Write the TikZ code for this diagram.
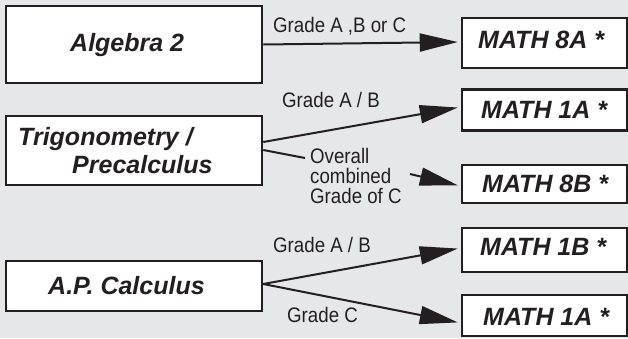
\documentclass[tikz,border=0pt]{standalone}
\usepackage{fontspec}
\setmainfont{Liberation Sans}
\newfontfamily\labfont[FakeStretch=0.89]{Liberation Sans}
\usetikzlibrary{arrows.meta}
\definecolor{bg}{HTML}{E6E7E8}
\definecolor{ink}{HTML}{231F20}
\tikzset{
  box/.style={draw=ink, line width=2.5pt, fill=white, inner sep=0pt},
  leftbox/.style={box, minimum width=256pt},
  rightbox/.style={box, minimum width=165pt},
  boxtext/.style={anchor=base west, inner sep=0pt, text=ink, font=\fontsize{25}{30}\selectfont\bfseries\itshape},
  lab/.style={anchor=base west, inner sep=0pt, text=ink, font=\labfont\fontsize{21}{20}\selectfont},
  conn/.style={draw=ink, line width=2pt},
  arr/.style={conn, -{Triangle[length=38pt,width=18pt]}, shorten >=3pt}
}
\begin{document}
\begin{tikzpicture}[x=1pt,y=-1pt]
\fill[bg] (0,0) rectangle (628,338);
\useasboundingbox (0,0) rectangle (628,338);
% left boxes
\node[leftbox, minimum height=77pt] (alg) at (134,44.5) {};
\node[leftbox, minimum height=69pt] (trig) at (134,150.5) {};
\node[leftbox, minimum height=50pt] (ap) at (134,286) {};
% right boxes
\node[rightbox, minimum height=50pt] (m8a) at (544.5,43) {};
\node[rightbox, minimum height=41pt] (m1a) at (544.5,110) {};
\node[rightbox, minimum height=38pt] (m8b) at (544.5,184) {};
\node[rightbox, minimum height=44pt] (m1b) at (544.5,250) {};
\node[rightbox, minimum height=41pt] (m1c) at (544.5,315.5) {};
% box texts
\node[boxtext] (talg) at (70,51) {Algebra 2};
\node[boxtext] (ttrig1) at (18,145) {Trigonometry /};
\node[boxtext] (ttrig2) at (72,173) {Precalculus};
\node[boxtext] (tap) at (48,294) {A.P. Calculus};
\node[boxtext] (t8a) at (478,48) {MATH 8A *};
\node[boxtext] (t1a) at (481,118) {MATH 1A *};
\node[boxtext] (t8b) at (482,192) {MATH 8B *};
\node[boxtext] (t1b) at (480,255) {MATH 1B *};
\node[boxtext] (t1c) at (483,325) {MATH 1A *};
% labels
\node[lab] (l1) at (273,32) {Grade A ,B or C};
\node[lab] (l2) at (282,107) {Grade A / B};
\node[lab] (l3a) at (310,163) {Overall};
\node[lab] (l3b) at (310,183) {combined};
\node[lab] (l3c) at (310,203) {Grade of C};
\node[lab] (l4) at (273,252) {Grade A / B};
\node[lab] (l5) at (287,322) {Grade C};
% connectors
\coordinate (c1) at (305,158);
\coordinate (c2) at (410,174);
\draw[arr] (alg.east) -- ([yshift=1pt]m8a.west);
\draw[arr] ([yshift=8.5pt]trig.east) -- ([yshift=3pt]m1a.west);
\draw[conn] ([yshift=0.5pt]trig.east) -- (c1);
\draw[arr] (c2) -- ([yshift=-2pt]m8b.west);
\draw[arr] ([yshift=2pt]ap.east) -- ([yshift=2pt]m1b.west);
\draw[arr] ([yshift=2pt]ap.east) -- ([yshift=-7.5pt]m1c.west);
\end{tikzpicture}
\end{document}
